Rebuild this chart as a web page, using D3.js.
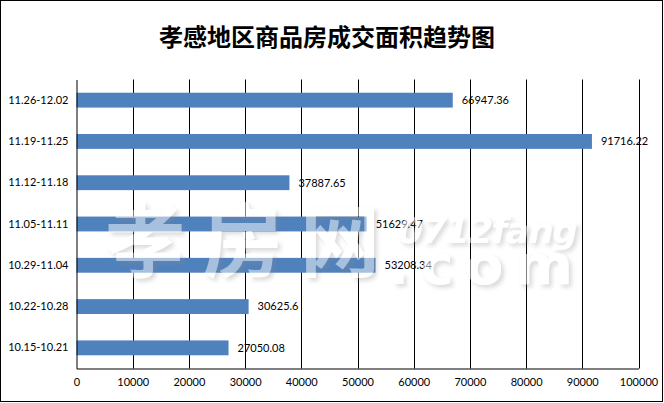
<!DOCTYPE html>
<html><head><meta charset="utf-8">
<script src="https://cdn.jsdelivr.net/npm/d3@7/dist/d3.min.js"></script>
<style>body{margin:0;background:#fff}svg{display:block}</style>
</head><body>
<script>
const categories = ["11.26-12.02","11.19-11.25","11.12-11.18","11.05-11.11","10.29-11.04","10.22-10.28","10.15-10.21"];
const values = [66947.36, 91716.22, 37887.65, 51629.47, 53208.34, 30625.6, 27050.08];
const valueLabels = ["66947.36","91716.22","37887.65","51629.47","53208.34","30625.6","27050.08"];
const xTicks = [0,10000,20000,30000,40000,50000,60000,70000,80000,90000,100000];
const title = "孝感地区商品房成交面积趋势图";

(function(){
const W = 664, H = 403;
const FONT = "Lato, 'Open Sans', sans-serif";
const svg = d3.select("body").append("svg").attr("width", W).attr("height", H);
svg.append("rect").attr("x",0.5).attr("y",0.5).attr("width",W-2).attr("height",H-2)
  .attr("fill","#fff").attr("stroke","#000").attr("stroke-width",1);

const pL = 76.5, pR = 638.5, pT = 79.5, pB = 368.5;
const x = d3.scaleLinear().domain([0,100000]).range([pL,pR]);
const y = d3.scaleBand().domain(categories).range([pT,pB]).paddingInner(0.64).paddingOuter(0.32);

svg.append("text").attr("x",327).attr("y",46).attr("text-anchor","middle")
  .attr("font-family","'Noto Sans CJK SC'").attr("font-weight","bold").attr("font-size",24)
  .attr("fill","#000").text(title);

// gridlines
svg.append("g").selectAll("line").data(xTicks.slice(1)).join("line")
  .attr("x1",d=>Math.round(x(d))+0.5).attr("x2",d=>Math.round(x(d))+0.5)
  .attr("y1",pT).attr("y2",pB).attr("stroke","#000").attr("stroke-width",1);

// bars
svg.append("g").selectAll("rect").data(values).join("rect")
  .attr("x",pL).attr("y",(d,i)=>y(categories[i]))
  .attr("width",d=>x(d)-pL).attr("height",y.bandwidth()).attr("fill","#4F81BD");

// axes
const xAxis = d3.axisBottom(x).tickValues(xTicks).tickSize(0).tickPadding(10).tickFormat(d=>String(d));
const gx = svg.append("g").attr("transform",`translate(0,${pB})`).call(xAxis);
gx.select(".domain").attr("stroke","#000");
gx.selectAll("text").attr("font-family",FONT).attr("font-size",11).attr("fill","#000");

const yAxis = d3.axisLeft(y).tickSize(0).tickPadding(8);
const gy = svg.append("g").attr("transform",`translate(${pL},0)`).call(yAxis);
gy.select(".domain").attr("stroke","#000");
gy.selectAll("text").attr("font-family",FONT).attr("font-size",11).attr("fill","#000");

// data labels
svg.append("g").selectAll("text").data(values).join("text")
  .attr("x",d=>x(d)+9).attr("y",(d,i)=>y(categories[i])+y.bandwidth()/2)
  .attr("dy","0.35em").attr("font-family",FONT).attr("font-size",11)
  .attr("fill","#000").text((d,i)=>valueLabels[i]);

// watermark
const defs = svg.append("defs");
const f = defs.append("filter").attr("id","sh").attr("x","-10%").attr("y","-10%").attr("width","130%").attr("height","130%");
f.append("feDropShadow").attr("dx",3).attr("dy",3).attr("stdDeviation",2).attr("flood-color","#888").attr("flood-opacity",0.6);
const wm = svg.append("g").attr("filter","url(#sh)").attr("opacity",0.5);
wm.append("text").attr("x",105).attr("y",270).attr("font-family","'Noto Sans CJK SC'").attr("font-weight","bold")
  .attr("font-size",80).attr("fill","#fff").attr("textLength",275).text("孝房网");
wm.append("text").attr("x",398).attr("y",243).attr("font-family","'DejaVu Sans', sans-serif").attr("font-weight","bold")
  .attr("font-style","italic").attr("font-size",36).attr("fill","#fff").attr("textLength",180).text("0712fang");
wm.append("text").attr("x",388).attr("y",284).attr("font-family","'DejaVu Sans', sans-serif").attr("font-weight","bold")
  .attr("font-size",56).attr("fill","#fff").attr("textLength",185).text(".com");
})();
</script>
</body></html>
